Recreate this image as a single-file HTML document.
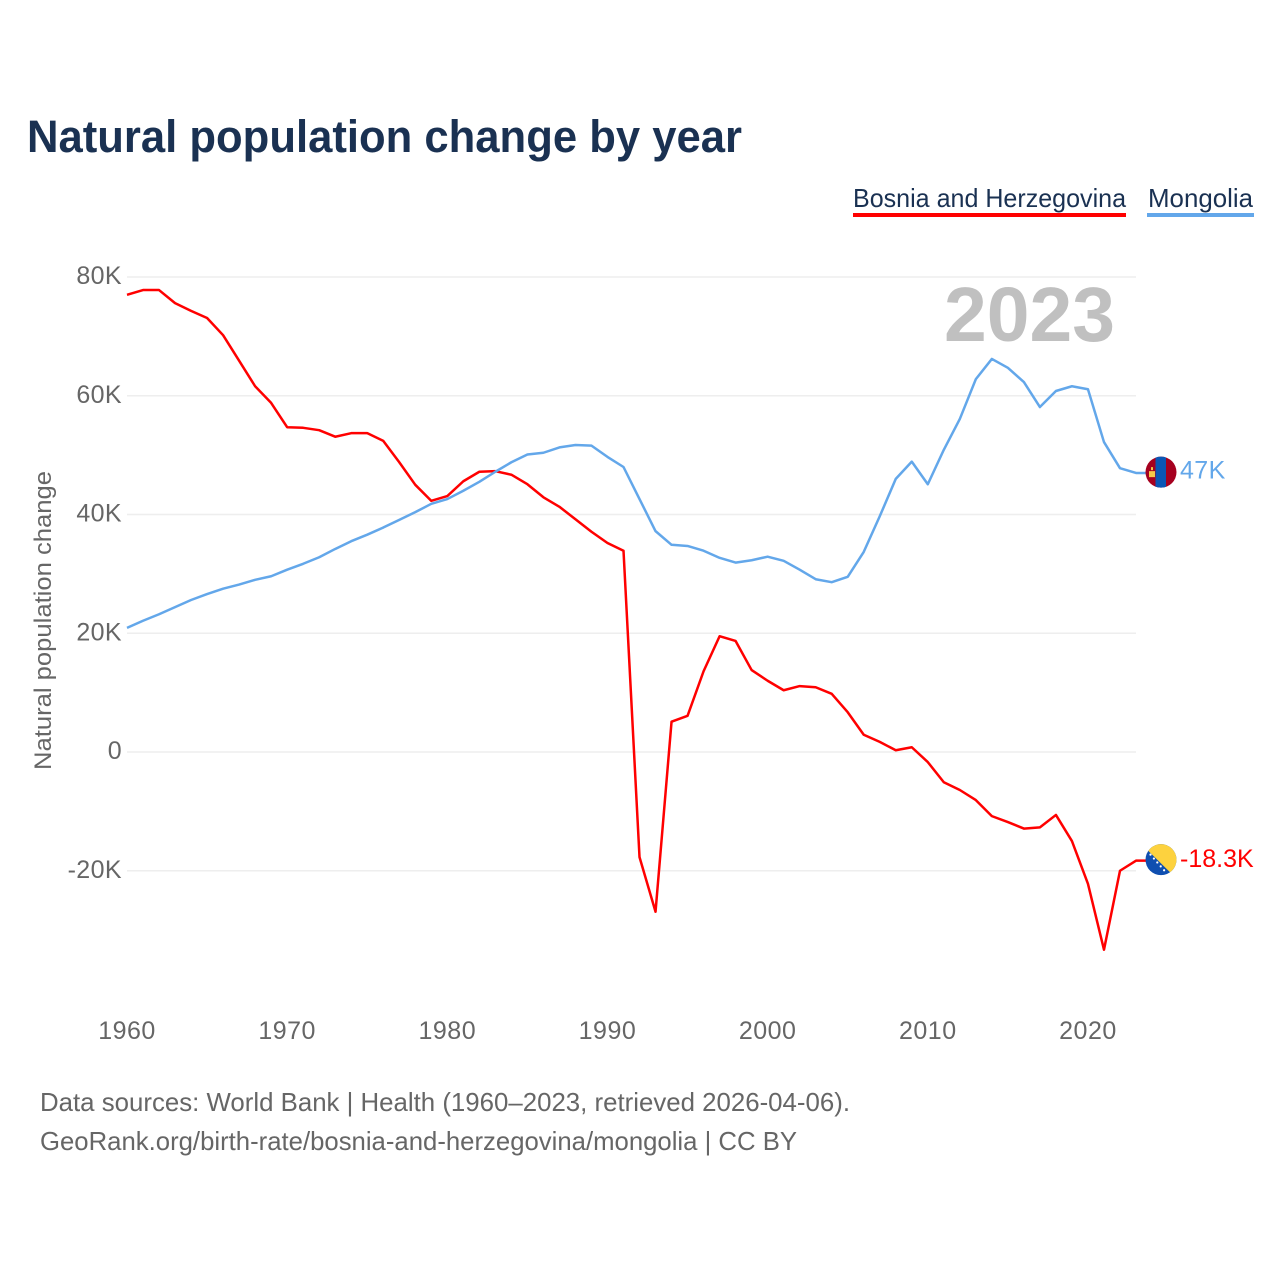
<!DOCTYPE html>
<html lang="en">
<head>
<meta charset="utf-8">
<title>Natural population change by year</title>
<style>
html,body{margin:0;padding:0;background:#fff;}
svg{display:block;font-family:"Liberation Sans",sans-serif;}
</style>
</head>
<body>
<svg id="chart" xmlns="http://www.w3.org/2000/svg" width="1280" height="1280" viewBox="0 0 1280 1280">
  <defs>
    <clipPath id="clip-flag-mn"><circle id="clip-mn-circle" cx="1161" cy="472" r="15.5"></circle></clipPath>
    <clipPath id="clip-flag-ba"><circle id="clip-ba-circle" cx="1161" cy="859" r="15.5"></circle></clipPath>
  </defs>
  <text x="27" y="152" font-size="45" font-weight="700" fill="#1a3152" textLength="715" lengthAdjust="spacingAndGlyphs">Natural population change by year</text>

  <text x="853" y="207" font-size="26" fill="#1a3152" textLength="273" lengthAdjust="spacingAndGlyphs">Bosnia and Herzegovina</text>
  <rect x="853" y="213" width="273" height="4" fill="#ff0000"></rect>
  <text x="1148" y="207" font-size="26" fill="#1a3152" textLength="105" lengthAdjust="spacingAndGlyphs">Mongolia</text>
  <rect x="1147" y="213" width="107" height="4" fill="#63a7ea"></rect>

  <g id="grid"></g>
  <g id="y-ticks"></g>
  <g id="x-ticks"></g>

  <text x="1115" y="341" text-anchor="end" font-size="77" font-weight="700" fill="#c0c0c0" textLength="171" lengthAdjust="spacingAndGlyphs">2023</text>

  <text transform="translate(51,770) rotate(-90)" font-size="24" fill="#666666" textLength="299" lengthAdjust="spacingAndGlyphs">Natural population change</text>

  <g id="series"></g>

  <g id="flag-mn" clip-path="url(#clip-flag-mn)"></g>
  <g id="flag-ba" clip-path="url(#clip-flag-ba)"></g>
  <text id="end-label-mn" x="1180" font-size="25" letter-spacing="0.4" fill="#63a7ea"></text>
  <text id="end-label-ba" x="1180" font-size="25" fill="#ff0000"></text>

  <text x="40" y="1111" font-size="26" fill="#666666" textLength="810" lengthAdjust="spacingAndGlyphs">Data sources: World Bank | Health (1960–2023, retrieved 2026-04-06).</text>
  <text x="40" y="1150" font-size="26" fill="#666666" textLength="757" lengthAdjust="spacingAndGlyphs">GeoRank.org/birth-rate/bosnia-and-herzegovina/mongolia | CC BY</text>
</svg>
<script>
const startYear = 1960;
const bosniaValues = [77.0,77.8,77.8,75.6,74.3,73.1,70.2,65.9,61.6,58.8,54.7,54.6,54.2,53.1,53.7,53.7,52.4,48.8,45.0,42.3,43.1,45.6,47.2,47.3,46.7,45.1,42.9,41.3,39.2,37.1,35.2,33.9,-17.7,-26.9,5.1,6.1,13.6,19.5,18.7,13.8,12.0,10.4,11.1,10.9,9.8,6.7,2.9,1.7,0.3,0.8,-1.7,-5.1,-6.4,-8.1,-10.8,-11.8,-12.9,-12.7,-10.6,-15.0,-22.2,-33.3,-20.0,-18.3];
const mongoliaValues = [20.9,22.1,23.2,24.4,25.6,26.6,27.5,28.2,29.0,29.6,30.7,31.7,32.8,34.2,35.5,36.6,37.8,39.1,40.4,41.8,42.6,44.0,45.5,47.2,48.8,50.1,50.4,51.3,51.7,51.6,49.7,48.0,42.6,37.2,34.9,34.7,33.9,32.7,31.9,32.3,32.9,32.2,30.7,29.1,28.6,29.5,33.7,39.7,46.0,48.9,45.1,50.9,56.1,62.8,66.2,64.7,62.3,58.1,60.8,61.6,61.1,52.2,47.8,47.0];
const yTickValues = [80,60,40,20,0,-20];
const xTickYears = [1960,1970,1980,1990,2000,2010,2020];

const NS = 'http://www.w3.org/2000/svg';
function xScale(year){ return 127 + (year - 1960) * 16.016; }
function yScale(v){ return 752 - v * 5.9375; }
function make(tag, attrs, parent){
  const el = document.createElementNS(NS, tag);
  for (const k in attrs) el.setAttribute(k, attrs[k]);
  parent.appendChild(el);
  return el;
}
function fmtK(v){ return v === 0 ? '0' : (Math.round(v * 10) / 10) + 'K'; }

const grid = document.getElementById('grid');
const yTicks = document.getElementById('y-ticks');
yTickValues.forEach(function(v){
  const line = make('line', {x1:127, x2:1136, y1:yScale(v), y2:yScale(v), stroke:'#eeeeee', 'stroke-width':1.5}, grid);
  
  
  const t = make('text', {x:122, y:yScale(v) + 7, 'text-anchor':'end', 'font-size':25, 'letter-spacing':0.4, fill:'#666666'}, yTicks);
  
  
  t.textContent = fmtK(v);
});

const xTicks = document.getElementById('x-ticks');
xTickYears.forEach(function(y){
  const t = make('text', {x:xScale(y), y:1039, 'text-anchor':'middle', 'font-size':25, 'letter-spacing':0.5, fill:'#666666'}, xTicks);
  
  
  t.textContent = String(y);
});

function points(values){
  return values.map(function(v, i){ return xScale(startYear + i).toFixed(2) + ',' + yScale(v).toFixed(2); });
}
const series = document.getElementById('series');
const flagX = 1146;

const lastB = bosniaValues[bosniaValues.length - 1];
const lastM = mongoliaValues[mongoliaValues.length - 1];

const lineB = make('polyline', {points: points(bosniaValues).concat([flagX + ',' + yScale(lastB).toFixed(2)]).join(' '), fill:'none', stroke:'#ff0000', 'stroke-width':2.5, 'stroke-linejoin':'round'}, series);


const lineM = make('polyline', {points: points(mongoliaValues).concat([flagX + ',' + yScale(lastM).toFixed(2)]).join(' '), fill:'none', stroke:'#63a7ea', 'stroke-width':2.5, 'stroke-linejoin':'round'}, series);



// Mongolia flag, centred just above its series' last value
const cyM = yScale(lastM) - 0.8;
document.getElementById('clip-mn-circle').setAttribute('cy', cyM);
const fm = document.getElementById('flag-mn');
make('rect', {x:1145, y:cyM - 16, width:32, height:32, fill:'#a6001f'}, fm);
make('rect', {x:1155.5, y:cyM - 16, width:10.5, height:32, fill:'#0a56b5'}, fm);
make('rect', {x:1149, y:cyM - 1, width:6, height:6, fill:'#f5c84a'}, fm);
make('rect', {x:1151, y:cyM - 5, width:2, height:3, fill:'#f5c84a'}, fm);

// Bosnia flag, centred just above its series' last value
const cyB = yScale(lastB) - 1;
document.getElementById('clip-ba-circle').setAttribute('cy', cyB);
const fb = document.getElementById('flag-ba');
make('rect', {x:1145, y:cyB - 16, width:32, height:32, fill:'#0f4fb0'}, fb);
make('polygon', {points:[1145,cyB-12, 1145,cyB-16, 1177,cyB-16, 1177,cyB+16, 1173.5,cyB+16].join(' '), fill:'#fdd23e'}, fb);
[0,1,2,3,4].forEach(function(i){
  const star = make('circle', {cx:1150.5 + i * 3.4, cy:cyB - 5 + i * 3.9, r:1.1, fill:'#ffffff'}, fb);
  
  
});

const lm = document.getElementById('end-label-mn');
lm.setAttribute('y', cyM + 6.5);
lm.textContent = fmtK(lastM);
const lb = document.getElementById('end-label-ba');
lb.setAttribute('y', cyB + 7.5);
lb.textContent = fmtK(lastB);
</script>
</body>
</html>
